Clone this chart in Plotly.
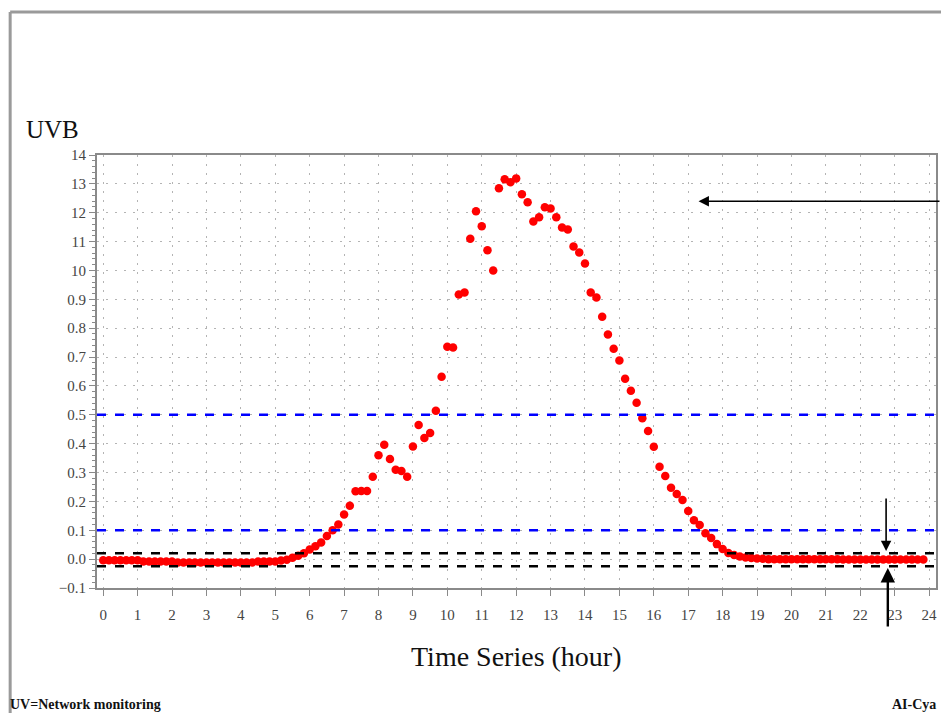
import numpy as np
import plotly.graph_objects as go

# Sampling: one reading every 10 minutes, from 00:00 to 23:50
step_min = 10
n_samples = 144

# UVB readings (10-minute samples)
uvb = [
    # 00:00 - 05:20
    -0.004, -0.004, -0.004, -0.004, -0.004, -0.004, -0.004,
    -0.008, -0.008, -0.008, -0.008, -0.008, -0.008,
    -0.012, -0.012, -0.012, -0.012, -0.012, -0.012, -0.012, -0.012,
    -0.012, -0.012, -0.012, -0.012, -0.012, -0.012,
    -0.008, -0.008, -0.008, -0.008, -0.005, -0.002,
    # 05:30 - 09:00
    0.005, 0.012, 0.020, 0.033, 0.045, 0.058, 0.080, 0.100, 0.120, 0.155,
    0.185, 0.235, 0.236, 0.236, 0.285, 0.360, 0.396, 0.347, 0.310, 0.305,
    0.285, 0.390,
    # 09:10 - 12:50
    0.465, 0.420, 0.437, 0.514, 0.632, 0.736, 0.733, 0.917, 0.924, 1.110,
    1.205, 1.153, 1.070, 1.000, 1.285, 1.316, 1.306, 1.319, 1.264, 1.236,
    1.170, 1.184,
    # 12:50 - 16:30
    1.219, 1.215, 1.184, 1.149, 1.142, 1.083, 1.062, 1.024, 0.924, 0.906,
    0.840, 0.778, 0.729, 0.688, 0.625, 0.583, 0.542, 0.488, 0.444, 0.389,
    0.320, 0.288,
    # 16:30 - 19:00
    0.247, 0.226, 0.205, 0.167, 0.135, 0.118, 0.090, 0.073, 0.052, 0.035,
    0.021, 0.014, 0.009, 0.006, 0.004, 0.002,
    # 19:10 - 23:50
    0.001, 0.0, 0.0, 0.0, 0.0, 0.0, 0.0, 0.0, 0.0, 0.0,
    0.0, 0.0, 0.0, 0.0, -0.001, -0.001, -0.001, -0.001, -0.001, -0.001,
    -0.001, -0.001, -0.001, -0.001, -0.001, -0.001, -0.001, -0.001, -0.001,
]
uvb = uvb[:n_samples]
hours = [i * step_min / 60 for i in range(len(uvb))]

# Threshold levels
blue_levels = [0.5, 0.1]
black_levels = [0.02, -0.025]

# Axis ticks
y_tickvals = [-0.1, 0.0, 0.1, 0.2, 0.3, 0.4, 0.5, 0.6, 0.7, 0.8, 0.9, 1.0, 1.1, 1.2, 1.3, 1.4]
y_ticktext = ["\u22120.1", "0.0", "0.1", "0.2", "0.3", "0.4", "0.5", "0.6", "0.7",
              "0.8", "0.9", "10", "11", "12", "13", "14"]
x_tickvals = list(range(0, 25))
x_ticktext = [str(v) for v in x_tickvals]

SERIF = "Liberation Serif, DejaVu Serif, serif"
AXIS_GREY = "#8a8a8a"
GRID = dict(showgrid=True, gridcolor="#b4b4b4", griddash="2px,7px", gridwidth=1.2,
            zeroline=False)

fig = go.Figure()

fig.add_trace(go.Scatter(
    x=hours, y=uvb, mode="markers",
    marker=dict(color="#ff0000", size=8.5, line=dict(width=0)),
    showlegend=False, hoverinfo="x+y",
))

shapes = []
for lv in blue_levels:
    shapes.append(dict(type="line", xref="paper", yref="y", x0=0, x1=1.004 if lv < 0.3 else 0.999,
                       y0=lv, y1=lv, line=dict(color="#0000ff", width=2.5, dash="dash")))
for lv in black_levels:
    shapes.append(dict(type="line", xref="paper", yref="y", x0=0, x1=1.004,
                       y0=lv, y1=lv, line=dict(color="#000000", width=2.5, dash="dash")))

# Outer frame (left and top edges)
shapes.append(dict(type="line", xref="paper", yref="paper", x0=-0.1035, x1=-0.1035,
                   y0=-0.30, y1=1.3303, line=dict(color="#9a9a9a", width=3)))
shapes.append(dict(type="line", xref="paper", yref="paper", x0=-0.1035, x1=1.02,
                   y0=1.3303, y1=1.3303, line=dict(color="#9a9a9a", width=3)))

annotations = [
    dict(text="UVB", xref="paper", yref="paper", x=-0.087, y=1.058, xanchor="left",
         yanchor="middle", showarrow=False, font=dict(family=SERIF, size=25, color="#111")),
    dict(text="Time Series (hour)", xref="paper", yref="paper", x=0.5, y=-0.159,
         xanchor="center", yanchor="middle", showarrow=False,
         font=dict(family=SERIF, size=28, color="#111")),
    dict(text="<b>UV=Network monitoring</b>", xref="paper", yref="paper", x=-0.1058, y=-0.268,
         xanchor="left", yanchor="middle", showarrow=False,
         font=dict(family=SERIF, size=14, color="#111")),
    dict(text="<b>AI-Cya</b>", xref="paper", yref="paper", x=1.0024, y=-0.268,
         xanchor="right", yanchor="middle", showarrow=False,
         font=dict(family=SERIF, size=14, color="#111")),
    # Arrows
    dict(x=17.3, y=1.24, xref="x", yref="y", ax=260, ay=0, text="", showarrow=True,
         arrowhead=2, arrowsize=1.3, arrowwidth=1.6, arrowcolor="#000"),
    dict(x=22.75, y=0.028, xref="x", yref="y", ax=0, ay=-54, text="", showarrow=True,
         arrowhead=2, arrowsize=1.3, arrowwidth=1.6, arrowcolor="#000"),
    dict(x=22.8, y=-0.031, xref="x", yref="y", ax=0, ay=60, text="", showarrow=True,
         arrowhead=2, arrowsize=1.2, arrowwidth=2.4, arrowcolor="#000"),
]

fig.update_layout(
    width=941, height=713,
    margin=dict(l=97, r=3, t=155, b=125),
    paper_bgcolor="white", plot_bgcolor="white",
    shapes=shapes, annotations=annotations,
    font=dict(family=SERIF),
)

fig.update_xaxes(
    range=[-0.18, 24.2], tickvals=x_tickvals, ticktext=x_ticktext,
    showline=True, linecolor=AXIS_GREY, linewidth=2, mirror=True,
    ticks="outside", ticklen=6, tickcolor=AXIS_GREY, ticklabelstandoff=6,
    tickfont=dict(family=SERIF, size=15, color="#444"),
    **GRID,
)
fig.update_yaxes(
    range=[-0.1, 1.4], tickvals=y_tickvals, ticktext=y_ticktext,
    showline=True, linecolor=AXIS_GREY, linewidth=2, mirror=True,
    ticks="outside", ticklen=6, tickcolor=AXIS_GREY,
    minor=dict(dtick=0.02, ticks="outside", ticklen=3, tickcolor=AXIS_GREY),
    tickfont=dict(family=SERIF, size=15, color="#444"),
    **GRID,
)

fig.write_html("out.html")
